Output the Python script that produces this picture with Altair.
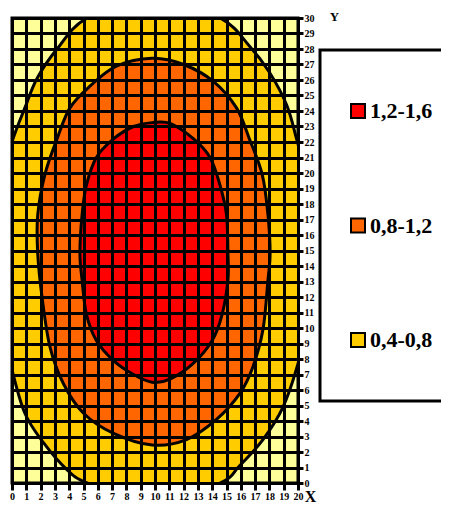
import altair as alt
import pandas as pd

# Band labels and colours
bands = ["1,2-1,6", "0,8-1,2", "0,4-0,8"]
band_colors = ["#FF0000", "#FF6600", "#FFCC00"]
low_color = "#FFFF99"

x_ticks = list(range(0, 21))
y_ticks = list(range(0, 31))

# Contour 1.2 (inner, red band boundary)
inner_x = [9.8, 11.05, 12.7, 13.85, 14.55, 15.0, 15.1, 15.1, 14.7, 14.0, 12.65, 11.05,
           9.8, 8.5, 7.1, 5.9, 5.2, 4.9, 4.75, 4.9, 5.2, 5.9, 7.1, 8.5]
inner_y = [23.25, 23.2, 22.2, 21.0, 19.2, 17.3, 14.8, 13.1, 10.9, 9.2, 7.7, 6.7,
           6.5, 7.0, 7.9, 9.2, 10.9, 13.1, 14.8, 17.3, 19.2, 21.0, 22.2, 23.0]

# Contour 0.8 (middle, orange band boundary)
middle_x = [9.8, 12.0, 14.1, 15.7, 16.6, 17.5, 17.9, 18.05, 17.9, 17.55, 16.85, 15.95, 14.3,
            12.2, 9.8, 7.1, 5.0, 3.6, 2.65, 2.1, 1.8, 1.8, 2.3, 3.15, 4.05, 5.45, 7.3]
middle_y = [27.4, 27.0, 25.9, 24.2, 22.2, 19.9, 17.3, 14.8, 13.1, 9.9, 7.5, 5.8, 4.1,
            2.8, 2.45, 3.2, 4.5, 6.4, 8.8, 12.0, 14.8, 17.3, 19.9, 22.2, 24.2, 25.6, 26.9]

# Contour 0.4 (outer, yellow band boundary; leaves the plotted range)
outer_x = [9.9, 14.55, 16.6, 18.0, 19.2, 19.9, 20.9, 21.2, 20.9, 20.0, 18.95, 17.55, 15.9,
           14.55, 9.9, 5.25, 3.8, 2.2, 0.9, 0.0, -1.0, -1.4, -1.0, 0.0, 0.9, 1.75, 3.15, 5.25]
outer_y = [31.5, 30.0, 28.2, 26.5, 24.4, 22.2, 18.5, 15.0, 11.3, 7.7, 4.9, 2.8, 1.1,
           0.0, -1.5, 0.0, 0.9, 2.6, 4.5, 7.3, 11.3, 15.0, 18.7, 22.0, 24.2, 26.1, 28.0, 30.0]


def contour_df(xs, ys, band):
    return pd.DataFrame({"x": xs, "y": ys, "i": list(range(len(xs))), "band": band})


FONT = "Liberation Serif"

x_enc = alt.X("x:Q", scale=alt.Scale(domain=[0, 20], nice=False, zero=False),
              axis=alt.Axis(values=x_ticks, grid=True, gridColor="black", gridWidth=3,
                            gridOpacity=1, domainColor="black", domainWidth=3,
                            tickColor="black", tickWidth=3, tickSize=7,
                            labelFont=FONT, labelFontWeight="bold", labelFontSize=10,
                            labelColor="black", labelPadding=1, labelAngle=0,
                            labelFlush=False, labelOverlap=False,
                            title="X", titleX=298, titleY=18, titleFont=FONT,
                            titleFontSize=16, titleFontWeight="bold", titleColor="black",
                            titleBaseline="alphabetic", titleAlign="center", zindex=1))
y_enc = alt.Y("y:Q", scale=alt.Scale(domain=[0, 30], nice=False, zero=False),
              axis=alt.Axis(values=y_ticks, orient="right", grid=True, gridColor="black",
                            gridWidth=3, gridOpacity=1, domainColor="black", domainWidth=3,
                            tickColor="black", tickWidth=3, tickSize=5,
                            labelFont=FONT, labelFontWeight="bold", labelFontSize=10,
                            labelColor="black", labelPadding=1,
                            labelFlush=False, labelOverlap=False,
                            title="Y", titleAngle=0, titleX=36, titleY=2, titleFont=FONT,
                            titleFontSize=13, titleFontWeight="bold", titleColor="black",
                            titleBaseline="alphabetic", titleAlign="center", zindex=1))
color_enc = alt.Color("band:N", scale=alt.Scale(domain=bands, range=band_colors),
                      legend=alt.Legend(title=None, orient="none", legendX=308, legendY=32,
                                        symbolType="square", symbolSize=196,
                                        symbolStrokeColor="black", symbolStrokeWidth=2,
                                        labelOffset=1, clipHeight=68,
                                        labelFont=FONT, labelFontWeight="bold",
                                        labelFontSize=22, labelColor="black",
                                        rowPadding=46.5, padding=27,
                                        strokeColor="black", fillColor="white"))


def layer(df):
    return alt.Chart(df).mark_line(
        filled=True, interpolate="cardinal-closed", stroke="black", strokeWidth=3,
        clip=True, opacity=1
    ).encode(x=x_enc, y=y_enc, color=color_enc, order=alt.Order("i:Q"))


chart = alt.layer(
    layer(contour_df(outer_x, outer_y, bands[2])),
    layer(contour_df(middle_x, middle_y, bands[1])),
    layer(contour_df(inner_x, inner_y, bands[0])),
).properties(
    width=286, height=465,
    autosize=alt.AutoSizeParams(type="none"),
    padding={"left": 4, "top": 10, "right": 143, "bottom": 20},
).configure_view(
    fill=low_color, stroke="black", strokeWidth=3
).configure_legend(
    strokeWidth=3
)

chart.save("out.html", embed_options={"renderer": "svg", "actions": False})
